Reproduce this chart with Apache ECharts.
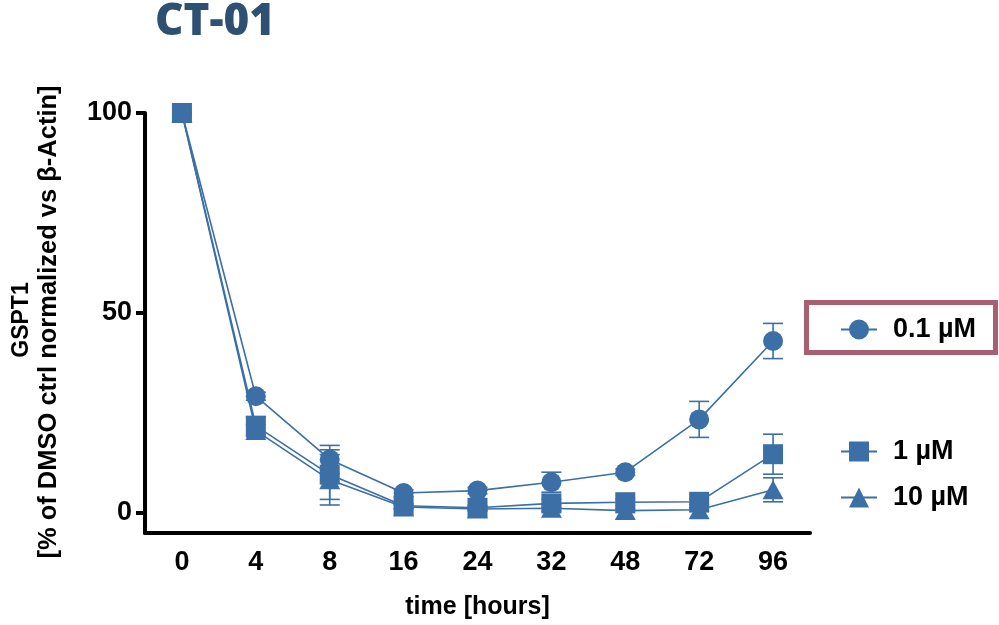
<!DOCTYPE html>
<html>
<head>
<meta charset="utf-8">
<script src="https://cdn.jsdelivr.net/npm/echarts@6/dist/echarts.min.js"></script>
<style>html,body{margin:0;padding:0;background:#fff}#c{width:999px;height:625px}</style>
</head>
<body>
<div id="c"></div>
<script>
const times = ['0', '4', '8', '16', '24', '32', '48', '72', '96'];
const seriesNames = ['0.1 µM', '1 µM', '10 µM'];
const mean01 = [100, 29.2, 13.4, 5.0, 5.6, 7.7, 10.2, 23.4, 43.0];
const err01  = [0, 1.0, 3.5, 0.8, 0.8, 2.5, 0.8, 4.5, 4.4];
const mean1  = [100, 21.8, 9.6, 1.8, 1.3, 2.4, 2.7, 2.8, 14.7];
const err1   = [0, 2.3, 6.2, 0.6, 0.6, 1.0, 0.8, 0.8, 5.0];
const mean10 = [100, 20.6, 8.3, 1.5, 1.0, 1.2, 0.6, 0.8, 5.8];
const err10  = [0, 1.5, 6.3, 0.5, 0.5, 0.8, 0.5, 0.5, 3.0];
const yTicks = [0, 50, 100];

const COLOR = '#3B6FA5';
const chart = echarts.init(document.getElementById('c'));

function errSeries(name, means, errs) {
  return {
    type: 'custom',
    name: name + ' (SEM)',
    z: 1,
    silent: true,
    data: means.map((m, i) => [i, m, errs[i]]),
    encode: { x: 0, y: 1 },
    renderItem: function (params, api) {
      const x = api.value(0), m = api.value(1), e = api.value(2);
      if (!e) return null;
      const t = api.coord([x, m + e]);
      const b = api.coord([x, m - e]);
      const hw = 10;
      const st = { stroke: COLOR, lineWidth: 1.6 };
      return {
        type: 'group',
        children: [
          { type: 'line', shape: { x1: t[0], y1: t[1], x2: b[0], y2: b[1] }, style: st },
          { type: 'line', shape: { x1: t[0] - hw, y1: t[1], x2: t[0] + hw, y2: t[1] }, style: st },
          { type: 'line', shape: { x1: b[0] - hw, y1: b[1], x2: b[0] + hw, y2: b[1] }, style: st }
        ]
      };
    }
  };
}

function lineSeries(name, means, symbol, size) {
  return {
    type: 'line',
    name: name,
    z: 3,
    data: means,
    symbol: symbol,
    symbolSize: size,
    showAllSymbol: true,
    color: COLOR,
    lineStyle: { color: COLOR, width: 1.6 },
    itemStyle: { color: COLOR, opacity: 1 },
    emphasis: { disabled: true }
  };
}

function legendFor(name, top) {
  return {
    data: [name],
    left: 840,
    top: top,
    itemWidth: 36,
    itemHeight: 25,
    padding: 0,
    selectedMode: false,
    textStyle: {
      fontFamily: 'Liberation Sans',
      fontWeight: 'bold',
      fontSize: 27,
      color: '#000',
      padding: [0, 0, 0, 11]
    }
  };
}

const option = {
  animation: false,
  backgroundColor: '#fff',
  title: {
    text: 'CT-01',
    left: 155,
    top: 0,
    padding: 0,
    textStyle: {
      fontFamily: 'Open Sans',
      fontWeight: 800,
      fontSize: 44,
      color: '#2E5073'
    }
  },
  legend: [
    legendFor(seriesNames[0], 316),
    legendFor(seriesNames[1], 438),
    legendFor(seriesNames[2], 484)
  ],
  graphic: [
    {
      type: 'rect',
      shape: { x: 806.5, y: 302.5, width: 189, height: 50 },
      style: { fill: 'none', stroke: '#A95F72', lineWidth: 5 },
      z: 10
    },
    {
      type: 'text',
      x: 22, y: 320,
      rotation: Math.PI / 2,
      style: {
        text: 'GSPT1',
        fontFamily: 'Liberation Sans',
        fontWeight: 'bold',
        fontSize: 23,
        fill: '#000',
        align: 'center',
        verticalAlign: 'middle'
      }
    },
    {
      type: 'text',
      x: 49, y: 322,
      rotation: Math.PI / 2,
      style: {
        text: '[% of DMSO ctrl normalized vs β-Actin]',
        fontFamily: 'Liberation Sans',
        fontWeight: 'bold',
        fontSize: 25.5,
        fill: '#000',
        align: 'center',
        verticalAlign: 'middle'
      }
    }
  ],
  grid: { left: 145, right: 189, top: 113, bottom: 89 },
  xAxis: {
    type: 'category',
    data: times,
    boundaryGap: true,
    name: 'time [hours]',
    nameLocation: 'middle',
    nameGap: 62,
    nameTextStyle: { fontFamily: 'Liberation Sans', fontWeight: 'bold', fontSize: 25, color: '#000' },
    axisLine: { onZero: false, lineStyle: { color: '#000', width: 4 } },
    axisTick: { alignWithLabel: true, length: 9, lineStyle: { color: '#000', width: 4 } },
    axisLabel: { margin: 16, fontFamily: 'Liberation Sans', fontWeight: 'bold', fontSize: 27, color: '#000' },
    splitLine: { show: false }
  },
  yAxis: {
    type: 'value',
    min: -5,
    max: 100,
    axisLine: { show: true, lineStyle: { color: '#000', width: 4 } },
    axisTick: { show: true, length: 9, customValues: yTicks, lineStyle: { color: '#000', width: 4 } },
    axisLabel: { margin: 13, customValues: yTicks, fontFamily: 'Liberation Sans', fontWeight: 'bold', fontSize: 27, color: '#000' },
    splitLine: { show: false }
  },
  series: [
    errSeries(seriesNames[2], mean10, err10),
    errSeries(seriesNames[1], mean1, err1),
    errSeries(seriesNames[0], mean01, err01),
    lineSeries(seriesNames[2], mean10, 'triangle', [21, 19]),
    lineSeries(seriesNames[1], mean1, 'rect', 20),
    lineSeries(seriesNames[0], mean01, 'circle', 20)
  ]
};
chart.setOption(option);
</script>
</body>
</html>
